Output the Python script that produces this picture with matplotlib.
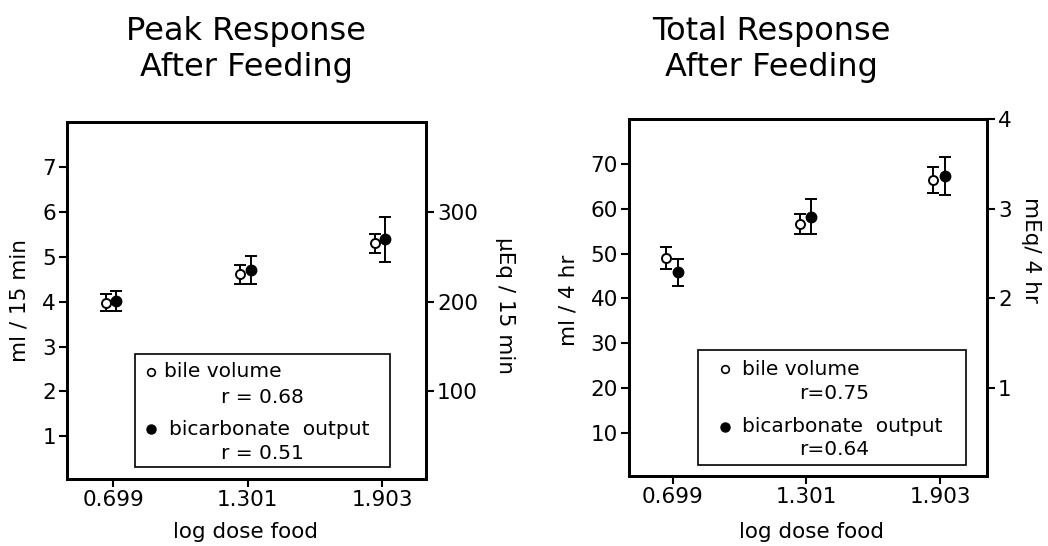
import matplotlib
matplotlib.use("Agg")
import matplotlib.pyplot as plt
from matplotlib.patches import Rectangle

plt.rcParams['font.family'] = ['DejaVu Sans']

# x categories (log dose food)
log_dose = [0.699, 1.301, 1.903]
dose_labels = ["0.699", "1.301", "1.903"]

# Peak response (ml / 15 min)
peak_bile = [3.98, 4.61, 5.30]
peak_bile_err = [0.20, 0.21, 0.21]
peak_bicarb = [4.01, 4.71, 5.39]
peak_bicarb_err = [0.23, 0.31, 0.50]

# Total response (ml / 4 hr)
total_bile = [49.0, 56.6, 66.3]
total_bile_err = [2.4, 2.3, 2.9]
total_bicarb = [45.8, 58.2, 67.3]
total_bicarb_err = [3.0, 3.9, 4.2]

peak_r = ["r = 0.68", "r = 0.51"]
total_r = ["r=0.75", "r=0.64"]

FS = 15.5
LFS = 14.5
TFS = 23
LW = 2.0


def style_axes(ax):
    for s in ax.spines.values():
        s.set_linewidth(LW)
    ax.tick_params(direction="out", length=6, width=1.5, labelsize=FS, pad=2)


def place_label(axis, x, y, rot):
    # put an axis label at a fixed spot in figure coordinates
    axis.set_label_coords(x, y, transform=fig.transFigure)
    lab = axis.label
    lab.set_rotation(rot)
    lab.set_rotation_mode("anchor")
    lab.set_ha("center")
    lab.set_va("center")
    lab.set_fontsize(FS)


def draw_points(ax, xs, bile, bile_err, bic, bic_err, off_open, off_fill):
    ax.errorbar([x + off_open for x in xs], bile, yerr=bile_err, fmt="o",
                mfc="white", mec="black", mew=1.4, ms=6.5, ecolor="black",
                elinewidth=1.4, capsize=4, capthick=1.4, zorder=3)
    ax.errorbar([x + off_fill for x in xs], bic, yerr=bic_err, fmt="o",
                mfc="black", mec="black", ms=7.5, ecolor="black",
                elinewidth=1.4, capsize=4, capthick=1.4, zorder=4)


def draw_legend(ax, box, mx, tx, rx, ys, rlabels):
    x0, y0, x1, y1 = box
    ax.add_patch(Rectangle((x0, y0), x1 - x0, y1 - y0, transform=ax.transAxes,
                           fill=False, lw=1.2, ec="black", zorder=5))
    ax.plot([mx], [ys[0]], "o", mfc="white", mec="black", ms=5.5, mew=1.2,
            transform=ax.transAxes, clip_on=False)
    ax.text(tx[0], ys[0], "bile volume", transform=ax.transAxes, fontsize=LFS,
            va="center", ha="left")
    ax.text(rx, ys[1], rlabels[0], transform=ax.transAxes, fontsize=LFS,
            va="center", ha="center")
    ax.plot([mx], [ys[2]], "o", mfc="black", mec="black", ms=6.5,
            transform=ax.transAxes, clip_on=False)
    ax.text(tx[1], ys[2], "bicarbonate  output", transform=ax.transAxes,
            fontsize=LFS, va="center", ha="left")
    ax.text(rx, ys[3], rlabels[1], transform=ax.transAxes, fontsize=LFS,
            va="center", ha="center")


fig = plt.figure(figsize=(10.48, 5.46), dpi=100)

# ---- left panel: peak response
ax1 = fig.add_axes([0.0639, 0.1227, 0.3426, 0.6539])
draw_points(ax1, log_dose, peak_bile, peak_bile_err, peak_bicarb,
            peak_bicarb_err, -0.032, 0.014)
ax1.set_xlim(0.492, 2.10)
ax1.set_ylim(0.05, 8)
ax1.set_yticks([1, 2, 3, 4, 5, 6, 7])
ax1.set_xticks(log_dose)
ax1.set_xticklabels(dose_labels)
ax1.set_ylabel("ml / 15 min")
ax1.set_xlabel("log dose food")
style_axes(ax1)
ax1b = ax1.twinx()
ax1b.set_ylim(0.05 * 50, 8 * 50)
ax1b.set_yticks([100, 200, 300])
ax1b.set_ylabel("\u03bcEq / 15 min")
style_axes(ax1b)
draw_legend(ax1, (0.189, 0.034, 0.900, 0.350), 0.233, (0.270, 0.284), 0.545,
            [0.30, 0.228, 0.14, 0.072], peak_r)
place_label(ax1.yaxis, 0.0185, 0.45, 90)
place_label(ax1b.yaxis, 0.482, 0.441, 270)
place_label(ax1.xaxis, 0.2345, 0.026, 0)
fig.text(0.2347, 0.9267, "Peak Response", ha="center", va="baseline", fontsize=TFS)
fig.text(0.2347, 0.8608, "After Feeding", ha="center", va="baseline", fontsize=TFS)

# ---- right panel: total response
ax2 = fig.add_axes([0.6002, 0.1282, 0.3416, 0.6538])
draw_points(ax2, log_dose, total_bile, total_bile_err, total_bicarb,
            total_bicarb_err, -0.03, 0.022)
ax2.set_xlim(0.502, 2.115)
ax2.set_ylim(0.4, 80)
ax2.set_yticks([10, 20, 30, 40, 50, 60, 70])
ax2.set_xticks(log_dose)
ax2.set_xticklabels(dose_labels)
ax2.set_ylabel("ml / 4 hr")
ax2.set_xlabel("log dose food")
style_axes(ax2)
ax2b = ax2.twinx()
ax2b.set_ylim(0.4 / 20, 80 / 20)
ax2b.set_yticks([1, 2, 3, 4])
ax2b.set_ylabel("mEq/ 4 hr")
style_axes(ax2b)
draw_legend(ax2, (0.193, 0.031, 0.941, 0.353), 0.268, (0.315, 0.315), 0.573,
            [0.299, 0.232, 0.138, 0.073], total_r)
place_label(ax2.yaxis, 0.542, 0.45, 90)
place_label(ax2b.yaxis, 0.984, 0.542, 270)
place_label(ax2.xaxis, 0.774, 0.026, 0)
fig.text(0.736, 0.9267, "Total Response", ha="center", va="baseline", fontsize=TFS)
fig.text(0.736, 0.8608, "After Feeding", ha="center", va="baseline", fontsize=TFS)

fig.savefig("out.png", dpi=100)
